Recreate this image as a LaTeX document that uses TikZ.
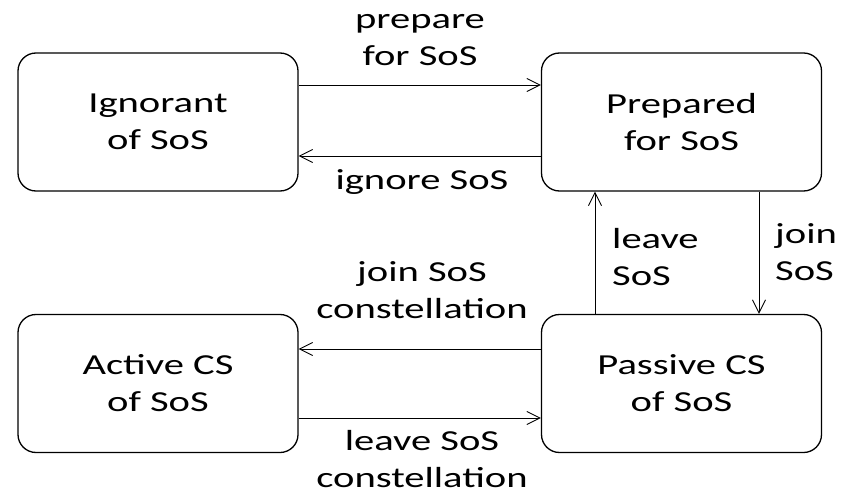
\documentclass[tikz,border=0pt]{standalone}
\usepackage{fontspec}
\setmainfont{Carlito}[FakeStretch=1.4]
\usetikzlibrary{arrows.meta}
\tikzset{
  state/.style={draw, line width=1.3pt, rounded corners=18pt, minimum width=280pt,
    minimum height=138pt, align=center, inner sep=0pt},
  trans/.style={line width=0.9pt, -{Straight Barb[length=13pt,width=13pt,line width=0.9pt]}},
  lbl/.style={align=center, inner sep=0pt},
  txt/.style={font=\fontsize{29}{37}\selectfont}
}
\begin{document}
\begin{tikzpicture}[x=1pt, y=-1pt, txt]
  \useasboundingbox (0,0) rectangle (842,494);
  % states
  \node[state] (ign)  at (158,122)   {Ignorant\\of SoS};
  \node[state] (prep) at (681.5,122) {Prepared\\for SoS};
  \node[state] (act)  at (158,383.5) {Active CS\\of SoS};
  \node[state] (pass) at (681.5,383.5) {Passive CS\\of SoS};
  % transitions
  \draw[trans] (ign.east |- 0,85) -- (prep.west |- 0,85);
  \draw[trans] (prep.west |- 0,156) -- (ign.east |- 0,156);
  \draw[trans] (pass.west |- 0,349) -- (act.east |- 0,349);
  \draw[trans] (act.east |- 0,418) -- (pass.west |- 0,418);
  \draw[trans] (pass.north -| 595,0) -- (prep.south -| 595,0);
  \draw[trans] (prep.south -| 759,0) -- (pass.north -| 759,0);
  % labels
  \node[lbl] (l1) at (420,40)  {prepare\\for SoS};
  \node[lbl] (l2) at (422,182) {ignore SoS};
  \node[lbl] (l3) at (422,290) {join SoS\\constellation};
  \node[lbl] (l4) at (422,459) {leave SoS\\constellation};
  \node[lbl, align=left, anchor=west] (l5) at (612,257) {leave\\SoS};
  \node[lbl, align=left, anchor=west] (l6) at (775,252) {join\\SoS};
\end{tikzpicture}
\end{document}
